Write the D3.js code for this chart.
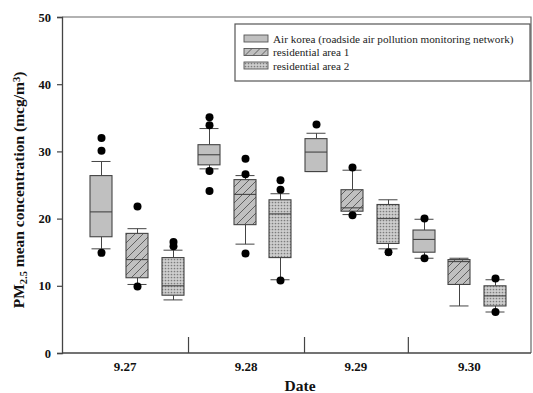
<!DOCTYPE html>
<html>
<head>
<meta charset="utf-8">
<script src="https://cdn.jsdelivr.net/npm/d3@7"></script>
<style>
  body { margin: 0; background: #fff; }
  svg { display: block; font-family: "Liberation Serif", "Times New Roman", serif; }
</style>
</head>
<body>
<div id="chart"></div>
<script>
// data (low whisker, q1, median, q3, high whisker)
const dates = ["9.27", "9.28", "9.29", "9.30"];
const seriesNames = [
  "Air korea (roadside air pollution monitoring network)",
  "residential area 1",
  "residential area 2"
];
const airKorea = [[15.5, 17.3, 21.0, 26.4, 28.5], [27.4, 28.0, 29.5, 31.0, 33.4], [27.0, 27.0, 29.9, 31.9, 32.7], [14.1, 15.0, 16.9, 18.3, 19.9]];
const airKoreaOut = [[14.9, 30.1, 32.0], [24.1, 27.1, 33.9, 35.1], [34.0], [14.1, 20.0]];
const resArea1 = [[10.2, 11.2, 13.9, 17.8, 18.5], [16.2, 19.1, 23.6, 25.8, 26.4], [20.6, 21.1, 21.6, 24.3, 27.2], [7.0, 10.2, 13.6, 13.9, 14.1]];
const resArea1Out = [[9.9, 21.8], [14.8, 26.6, 28.9], [20.5, 27.6], []];
const resArea2 = [[7.9, 8.6, 10.0, 14.2, 15.3], [10.9, 14.2, 20.7, 22.8, 23.7], [15.5, 16.3, 20.0, 22.1, 22.8], [6.1, 7.0, 8.5, 10.0, 10.9]];
const resArea2Out = [[15.9, 16.5], [10.8, 24.3, 25.7], [15.0], [6.1, 11.1]];
const yTicks = [0, 10, 20, 30, 40, 50];
const groupBreaks = [3.42, 6.66, 9.56]; // x positions of date dividers

const stats = [airKorea, resArea1, resArea2];
const outs = [airKoreaOut, resArea1Out, resArea2Out];

////////////////////////////////////////////////////////////////////
////////////////////////////  Init  ////////////////////////////////
const width = 533, height = 393;
const margin = { top: 17, right: 2, bottom: 40, left: 62 };

const svg = d3.select("#chart").append("svg")
  .attr("width", width).attr("height", height);

const xDomain = [-0.1, 13];
const x = d3.scaleLinear().domain(xDomain).range([margin.left, width - margin.right]);
const y = d3.scaleLinear().domain([0, 50]).range([height - margin.bottom, margin.top]);

// patterns
const defs = svg.append("defs");
const hatch = defs.append("pattern").attr("id", "hatch")
  .attr("patternUnits", "userSpaceOnUse").attr("width", 8).attr("height", 8);
hatch.append("rect").attr("width", 8).attr("height", 8).attr("fill", "#c0c0c0");
hatch.append("path").attr("d", "M-2,2 L2,-2 M0,8 L8,0 M6,10 L10,6")
  .attr("stroke", "#555").attr("stroke-width", 0.9);

// fine stipple
const dots = defs.append("pattern").attr("id", "dots")
  .attr("patternUnits", "userSpaceOnUse").attr("width", 3).attr("height", 3);
dots.append("rect").attr("width", 3).attr("height", 3).attr("fill", "#cecece");
dots.append("circle").attr("cx", 1.5).attr("cy", 1.5).attr("r", 0.85).attr("fill", "#7c7c7c");

const fills = ["#c0c0c0", "url(#hatch)", "url(#dots)"];

// flatten boxes
const boxes = [];
dates.forEach((d, di) => {
  seriesNames.forEach((s, si) => {
    const v = stats[si][di];
    boxes.push({ date: d, series: si, pos: di * 3 + si + 1,
      lo: v[0], q1: v[1], med: v[2], q3: v[3], hi: v[4], out: outs[si][di] });
  });
});

const boxW = Math.round(x(0.61) - x(0));
const capW = Math.round(x(0.53) - x(0));
const stroke = "#444";

////////////////////////////////////////////////////////////////////
////////////////////////////  Axes  ////////////////////////////////
// frame top + right
svg.append("path")
  .attr("d", `M${x(xDomain[0])},${y(50)} H${x(xDomain[1])} V${y(0)}`)
  .attr("fill", "none").attr("stroke", "#666").attr("stroke-width", 1.2);

const yAxis = svg.append("g")
  .attr("transform", `translate(${margin.left},0)`)
  .call(d3.axisLeft(y).tickValues(yTicks).tickSize(5).tickPadding(6));
yAxis.select(".domain").attr("stroke", "#444").attr("stroke-width", 1.3);
yAxis.selectAll(".tick line").attr("stroke", "#444").attr("stroke-width", 1.2);
yAxis.selectAll(".tick text")
  .attr("font-family", "Liberation Serif").attr("font-size", 12.5)
  .attr("font-weight", "bold").attr("fill", "#111");

const xAxis = svg.append("g")
  .attr("transform", `translate(0,${y(0)})`)
  .call(d3.axisTop(x).tickValues(groupBreaks).tickSize(16).tickFormat(""));
xAxis.select(".domain").attr("stroke", "#444").attr("stroke-width", 1.3)
  .attr("d", `M${x(xDomain[0])},0H${x(xDomain[1])}`);
xAxis.selectAll(".tick line").attr("stroke", "#444").attr("stroke-width", 1.2);

// date labels at group centers
const bounds = [xDomain[0], ...groupBreaks, xDomain[1]];
svg.selectAll(".date-label")
  .data(dates)
  .enter()
  .append("text")
  .attr("class", "date-label")
  .attr("x", (d, i) => x((bounds[i] + bounds[i + 1]) / 2))
  .attr("y", y(0) + 18)
  .attr("text-anchor", "middle")
  .attr("font-size", 13).attr("font-weight", "bold").attr("fill", "#111")
  .text((d) => d);

// axis titles
svg.append("text")
  .attr("x", x(6.55)).attr("y", 391)
  .attr("text-anchor", "middle")
  .attr("font-size", 15.5).attr("font-weight", "bold").attr("fill", "#111")
  .text("Date");

const yTitle = svg.append("text")
  .attr("transform", `translate(24,190) rotate(-90)`)
  .attr("text-anchor", "middle")
  .attr("font-size", 15.5).attr("font-weight", "bold").attr("fill", "#111");
yTitle.append("tspan").text("PM");
yTitle.append("tspan").attr("baseline-shift", "-25%").attr("font-size", 10.5).text("2.5");
yTitle.append("tspan").text(" mean concentration (mcg/m");
yTitle.append("tspan").attr("baseline-shift", "40%").attr("font-size", 10.5).text("3");
yTitle.append("tspan").text(")");

////////////////////////////////////////////////////////////////////
////////////////////////////  Boxes  ///////////////////////////////
const g = svg.selectAll(".box")
  .data(boxes)
  .enter()
  .append("g")
  .attr("class", "box")
  .attr("transform", (d) => `translate(${Math.round(x(d.pos))},0)`);

// whiskers
g.append("line")
  .attr("x1", 0.5).attr("x2", 0.5)
  .attr("y1", (d) => y(d.hi)).attr("y2", (d) => y(d.q3))
  .attr("stroke", stroke).attr("stroke-width", 1);
g.append("line")
  .attr("x1", 0.5).attr("x2", 0.5)
  .attr("y1", (d) => y(d.q1)).attr("y2", (d) => y(d.lo))
  .attr("stroke", stroke).attr("stroke-width", 1);
g.append("line")
  .attr("x1", -capW / 2).attr("x2", capW / 2)
  .attr("y1", (d) => y(d.hi)).attr("y2", (d) => y(d.hi))
  .attr("stroke", stroke).attr("stroke-width", 1);
g.append("line")
  .attr("x1", -capW / 2).attr("x2", capW / 2)
  .attr("y1", (d) => y(d.lo)).attr("y2", (d) => y(d.lo))
  .attr("stroke", stroke).attr("stroke-width", 1);

// box
g.append("rect")
  .attr("x", -boxW / 2)
  .attr("y", (d) => y(d.q3))
  .attr("width", boxW)
  .attr("height", (d) => y(d.q1) - y(d.q3))
  .attr("fill", (d) => fills[d.series])
  .attr("stroke", stroke).attr("stroke-width", 1.1);

// median
g.append("line")
  .attr("x1", -boxW / 2).attr("x2", boxW / 2)
  .attr("y1", (d) => y(d.med)).attr("y2", (d) => y(d.med))
  .attr("stroke", stroke).attr("stroke-width", 1.1);

// outliers
g.selectAll("circle")
  .data((d) => d.out)
  .enter()
  .append("circle")
  .attr("cx", 0.5)
  .attr("cy", (d) => y(d))
  .attr("r", 4)
  .attr("fill", "#000");

////////////////////////////////////////////////////////////////////
////////////////////////////  Legend  //////////////////////////////
const legend = svg.append("g").attr("transform", "translate(235,24)");
legend.append("rect")
  .attr("width", 295).attr("height", 57)
  .attr("fill", "#fff").attr("stroke", "#555").attr("stroke-width", 1.2);

const items = legend.selectAll(".legend-item")
  .data(seriesNames)
  .enter()
  .append("g")
  .attr("class", "legend-item")
  .attr("transform", (d, i) => `translate(9,${11 + i * 13.5})`);
items.append("rect")
  .attr("width", 24).attr("height", 7)
  .attr("fill", (d, i) => fills[i])
  .attr("stroke", "#555").attr("stroke-width", 0.9);
items.append("text")
  .attr("x", 29).attr("y", 7.5)
  .attr("font-size", 11.2).attr("fill", "#222")
  .text((d) => d);
</script>
</body>
</html>
